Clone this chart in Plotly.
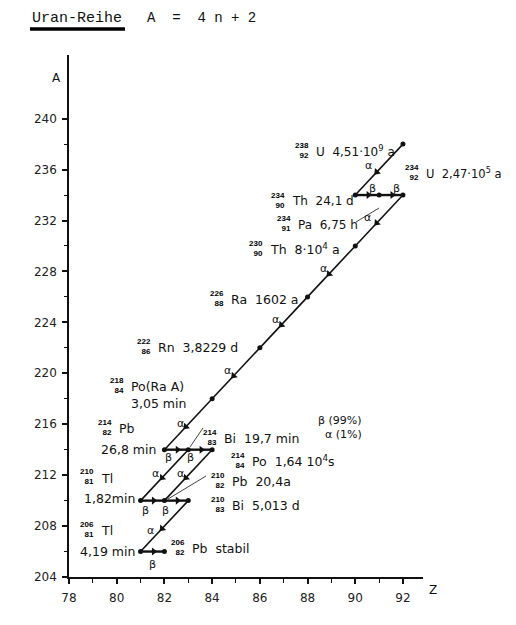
import math
import plotly.graph_objects as go

# ---------------- data ----------------
nuclide_symbol = ["U", "Th", "Pa", "U", "Th", "Ra", "Rn", "Po", "Pb", "Bi", "Po", "Tl", "Pb", "Bi", "Tl", "Pb"]
nuclide_alias = ["", "", "", "", "", "", "", "(Ra A)", "", "", "", "", "", "", "", ""]
nuclide_Z = [92, 90, 91, 92, 90, 88, 86, 84, 82, 83, 84, 81, 82, 83, 81, 82]
nuclide_A = [238, 234, 234, 234, 230, 226, 222, 218, 214, 214, 214, 210, 210, 210, 206, 206]
nuclide_halflife = ["4,51·10<sup>9</sup> a", "24,1 d", "6,75 h", "2,47·10<sup>5</sup> a",
                    "8·10<sup>4</sup> a", "1602 a", "3,8229 d", "3,05 min", "26,8 min",
                    "19,7 min", "1,64 10<sup>4</sup>s", "1,82min", "20,4a", "5,013 d",
                    "4,19 min", "stabil"]

decay_from = [0, 1, 2, 3, 4, 5, 6, 7, 8, 9, 9, 10, 11, 12, 13, 14]
decay_to = [1, 2, 3, 4, 5, 6, 7, 8, 9, 10, 11, 12, 12, 13, 14, 15]
decay_kind = ["α", "β", "β", "α", "α", "α", "α", "α", "β", "β", "α", "α", "β", "β", "α", "β"]

branch_text = ["β (99%)", "α (1%)"]

x_ticks = [78, 80, 82, 84, 86, 88, 90, 92]
y_ticks = [204, 208, 212, 216, 220, 224, 228, 232, 236, 240]
y_minor = [206, 210, 214, 218, 222, 226, 230, 234, 238]

title_text = "Uran-Reihe"
formula_text = "A  =  4 n + 2"

# ---------------- layout / style ----------------
OFF = 8                      # page body margin
W, H = 516 - OFF, 625 - 2 * OFF
ML, MT = 69 - OFF, 55 - OFF
PLOT_R, PLOT_B = 423 - OFF, 577 - OFF
MR, MB = W - PLOT_R, H - PLOT_B
PW, PH = PLOT_R - ML, PLOT_B - MT
X_RANGE = [78, 92.84]
Y_RANGE = [204, 245]


def px(x, y):
    """page pixel position -> paper coordinates"""
    return (x - OFF - ML) / PW, (PLOT_B - (y - OFF)) / PH


INK = "#111111"
FONT = "DejaVu Sans"
NB = "\u00a0"

label_pos = {
    0: dict(x=314, y=151),
    1: dict(x=290, y=201),
    2: dict(x=296, y=225),
    3: dict(x=424, y=173),
    4: dict(x=268, y=249),
    5: dict(x=229, y=299),
    6: dict(x=156, y=347),
    7: dict(x=129, y=386, x2=129, y2=403, a2="left"),
    8: dict(x=117, y=428, x2=158, y2=449, a2="right"),
    9: dict(x=222, y=438),
    10: dict(x=250, y=461),
    11: dict(x=99, y=478, x2=137, y2=498, a2="right"),
    12: dict(x=230, y=481),
    13: dict(x=230, y=505),
    14: dict(x=99, y=530, x2=137, y2=551, a2="right"),
    15: dict(x=190, y=548),
}
label_size = {0: 12, 1: 12, 2: 12, 3: 11.5}
decay_label_off = [(-11, -4), (5, -7), (5, -7), (-12, -3), (-8, -3), (-8, -3), (-8, -3), (-8, -1),
                   (-8, 8), (-10, 8), (-9, -2), (-8, -2), (-7, 10), (-11, 10), (-14, 4), (0, 13)]
leaders = [((356, 222), (379, 208)), ((203, 428), (190, 447)), ((206, 476), (168, 499))]

fig = go.Figure()

# decay segments
for f, t, k in zip(decay_from, decay_to, decay_kind):
    fig.add_trace(go.Scatter(
        x=[nuclide_Z[f], nuclide_Z[t]], y=[nuclide_A[f], nuclide_A[t]],
        mode="lines", line=dict(color=INK, width=1.6 if k == "α" else 2.4),
        hoverinfo="skip", showlegend=False))

# arrowheads (triangle markers rotated along each decay)
sx = PW / (X_RANGE[1] - X_RANGE[0])
sy = PH / (Y_RANGE[1] - Y_RANGE[0])
hx, hy, hang = [], [], []
for f, t in zip(decay_from, decay_to):
    x0, y0, x1, y1 = nuclide_Z[f], nuclide_A[f], nuclide_Z[t], nuclide_A[t]
    hx.append(x0 + 0.55 * (x1 - x0))
    hy.append(y0 + 0.55 * (y1 - y0))
    dxp = (x1 - x0) * sx
    dyp = -(y1 - y0) * sy
    hang.append(math.degrees(math.atan2(dxp, -dyp)))
fig.add_trace(go.Scatter(x=hx, y=hy, mode="markers",
                         marker=dict(symbol="triangle-up", size=7, angle=hang, color=INK,
                                     line=dict(width=0)),
                         hoverinfo="skip", showlegend=False))

# nuclide dots
fig.add_trace(go.Scatter(x=nuclide_Z, y=nuclide_A, mode="markers",
                         marker=dict(color=INK, size=5), hoverinfo="skip", showlegend=False))

annotations = []
shapes = []

# decay labels
for i, (f, t, k) in enumerate(zip(decay_from, decay_to, decay_kind)):
    x0, y0, x1, y1 = nuclide_Z[f], nuclide_A[f], nuclide_Z[t], nuclide_A[t]
    dx, dy = decay_label_off[i]
    annotations.append(dict(
        x=(x0 + x1) / 2, y=(y0 + y1) / 2, xref="x", yref="y", text=k, showarrow=False,
        xshift=dx, yshift=-dy, font=dict(family=FONT, size=11, color=INK)))

# nuclide labels
for i, sym in enumerate(nuclide_symbol):
    p = label_pos[i]
    two = "x2" in p
    main = sym + nuclide_alias[i] if two else sym + NB + NB + nuclide_halflife[i]
    fs = label_size.get(i, 12.5)
    xp, yp = px(p["x"], p["y"])
    annotations.append(dict(x=xp, y=yp, xref="paper", yref="paper", text=main,
                            xanchor="left", yanchor="middle", showarrow=False,
                            font=dict(family=FONT, size=fs, color=INK)))
    xn, yn = px(p["x"] - 3, p["y"] - 1)
    annotations.append(dict(x=xn, y=yn, xref="paper", yref="paper",
                            text=f"<b>{nuclide_A[i]}</b><br><b>{nuclide_Z[i]}</b>", align="right",
                            xanchor="right", yanchor="middle", showarrow=False,
                            font=dict(family="Liberation Sans", size=8, color="#000000")))
    if two:
        x2, y2 = px(p["x2"], p["y2"])
        annotations.append(dict(x=x2, y=y2, xref="paper", yref="paper", text=nuclide_halflife[i],
                                xanchor=p["a2"], yanchor="middle", showarrow=False,
                                font=dict(family=FONT, size=12.5, color=INK)))

# branching note
for txt, (bx, by) in zip(branch_text, [(316, 421), (323, 435)]):
    xp, yp = px(bx, by)
    annotations.append(dict(x=xp, y=yp, xref="paper", yref="paper", text=txt,
                            xanchor="left", yanchor="middle", showarrow=False,
                            font=dict(family=FONT, size=11, color=INK)))

# leader lines
for (a, b) in leaders:
    xa, ya = px(*a)
    xb, yb = px(*b)
    shapes.append(dict(type="line", xref="paper", yref="paper", x0=xa, y0=ya, x1=xb, y1=yb,
                       line=dict(color=INK, width=0.8)))

# title
tx, ty = px(30, 18)
annotations.append(dict(x=tx, y=ty, xref="paper", yref="paper", text=title_text, xanchor="left",
                        yanchor="middle", showarrow=False,
                        font=dict(family="Liberation Mono", size=15, color=INK)))
fx, fy = px(145, 18)
annotations.append(dict(x=fx, y=fy, xref="paper", yref="paper", text=formula_text, xanchor="left",
                        yanchor="middle", showarrow=False,
                        font=dict(family="Liberation Mono", size=14, color=INK)))
u0x, u0y = px(30, 29)
u1x, _ = px(125, 29)
shapes.append(dict(type="line", xref="paper", yref="paper", x0=u0x, y0=u0y, x1=u1x, y1=u0y,
                   line=dict(color="#000000", width=3.5)))

# axis titles
ax_, ay_ = px(50, 69)
annotations.append(dict(x=ax_, y=ay_, xref="paper", yref="paper", text="A", showarrow=False,
                        font=dict(family=FONT, size=12, color=INK)))
zx, zy = px(439, 599)
annotations.append(dict(x=zx, y=zy, xref="paper", yref="paper", text="Z", showarrow=False,
                        font=dict(family=FONT, size=12, color=INK)))

# right grey edge of the scan
ex0, ey0 = px(508, 617)
ex1, ey1 = px(513, 8)
shapes.append(dict(type="rect", xref="paper", yref="paper", x0=ex0, y0=ey0, x1=ex1, y1=ey1,
                   fillcolor="#9a9a9a", line=dict(width=0), layer="above"))

fig.update_layout(
    width=W, height=H, autosize=False,
    margin=dict(l=ML, r=MR, t=MT, b=MB, pad=0),
    paper_bgcolor="white", plot_bgcolor="white",
    annotations=annotations, shapes=shapes, showlegend=False,
    xaxis=dict(range=X_RANGE, tickmode="array", tickvals=x_ticks, ticktext=[str(v) for v in x_ticks],
               showgrid=False, zeroline=False, showline=True, linecolor=INK, linewidth=2.2,
               ticks="outside", ticklen=5, tickwidth=1.5, tickcolor=INK, ticklabelstandoff=3,
               tickfont=dict(family=FONT, size=12, color="#222222"),
               minor=dict(tickmode="linear", tick0=78, dtick=1, ticks="outside", ticklen=4,
                          tickwidth=1.2, tickcolor=INK, showgrid=False)),
    yaxis=dict(range=Y_RANGE, tickmode="array", tickvals=y_ticks, ticktext=[str(v) for v in y_ticks],
               showgrid=False, zeroline=False, showline=True, linecolor=INK, linewidth=1.5,
               ticks="outside", ticklen=5, tickwidth=1.5, tickcolor=INK, ticklabelstandoff=3,
               tickfont=dict(family=FONT, size=12, color="#222222"),
               minor=dict(tickmode="array", tickvals=y_minor, ticks="outside", ticklen=3,
                          tickwidth=1.2, tickcolor=INK, showgrid=False)),
)

fig.write_html("out.html")
